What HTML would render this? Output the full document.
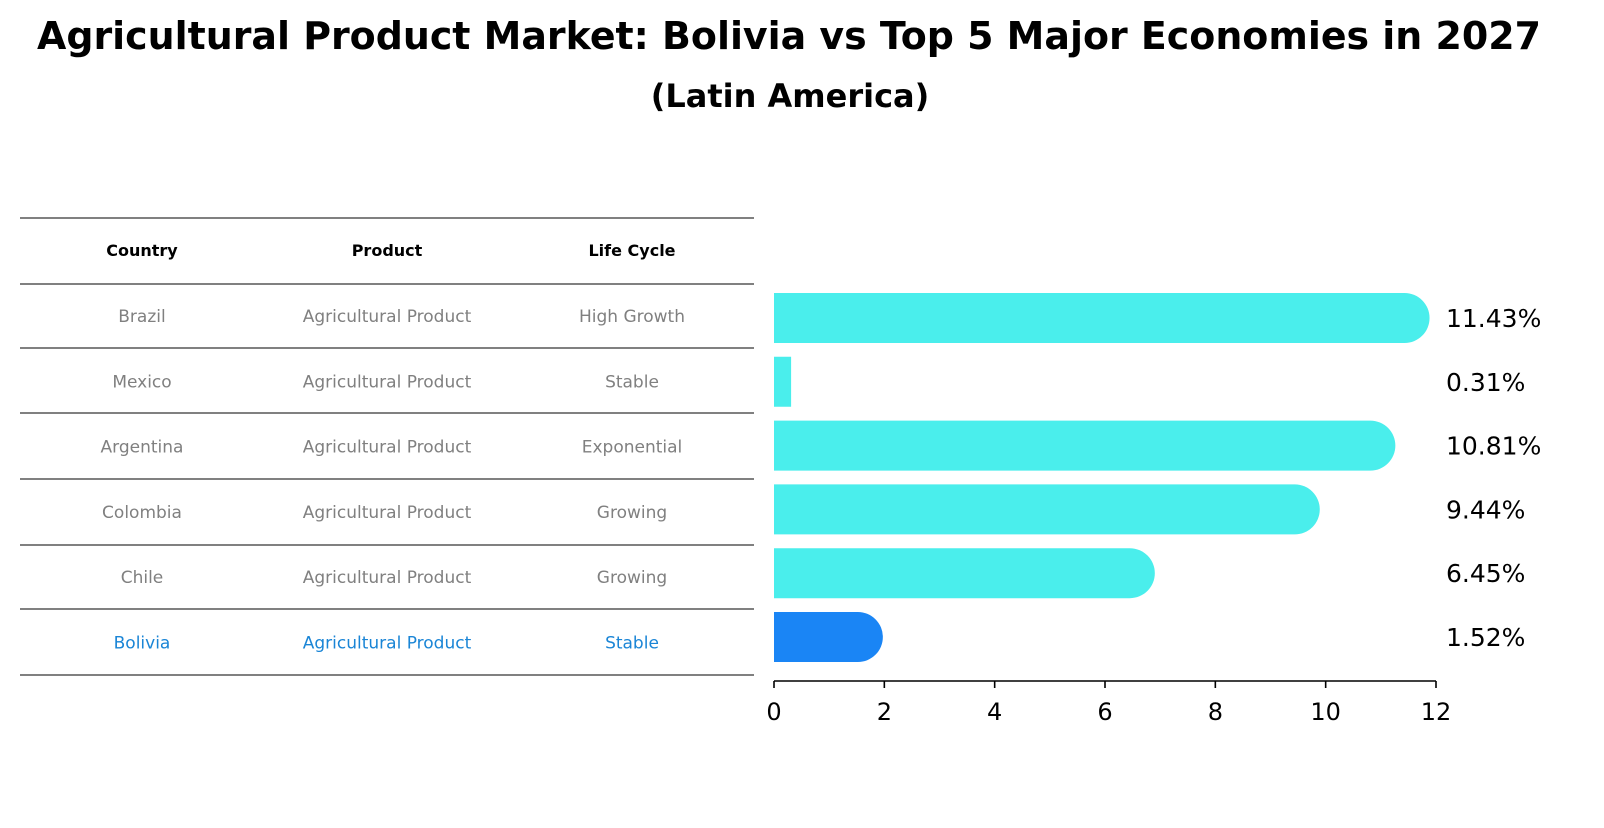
<!DOCTYPE html>
<html><head><meta charset="utf-8"><style>
body{margin:0;background:#fff;font-family:"Liberation Sans","DejaVu Sans",sans-serif;}
svg text{font-family:"DejaVu Sans","Liberation Sans",sans-serif;}
</style></head><body>
<svg width="1604" height="823" viewBox="0 0 1604 823" xmlns="http://www.w3.org/2000/svg">
<text x="789" y="49" text-anchor="middle" font-size="38" font-weight="bold" textLength="1504" lengthAdjust="spacingAndGlyphs">Agricultural Product Market: Bolivia vs Top 5 Major Economies in 2027</text>
<text x="790" y="107" text-anchor="middle" font-size="32" font-weight="bold">(Latin America)</text>
<g id="table"></g>
<g id="bars"></g>
<g id="axis"></g>
</svg>
<script>
const countries=["Brazil","Mexico","Argentina","Colombia","Chile","Bolivia"];
const products=["Agricultural Product","Agricultural Product","Agricultural Product","Agricultural Product","Agricultural Product","Agricultural Product"];
const lifeCycles=["High Growth","Stable","Exponential","Growing","Growing","Stable"];
const values=[11.43,0.31,10.81,9.44,6.45,1.52];
const ticks=[0,2,4,6,8,10,12];
const NS="http://www.w3.org/2000/svg";
function mk(tag,attrs,parent,txt){const e=document.createElementNS(NS,tag);for(const k in attrs)e.setAttribute(k,attrs[k]);if(txt!==undefined)e.textContent=txt;parent.appendChild(e);return e;}
const x0=774,x1=1436,xmax=12;
const xs=v=>x0+(x1-x0)*v/xmax;
const rowY=i=>318+i*63.8;
const tb=document.getElementById('table');
const lineYs=[218,284,348,413,479,545,609,675];
lineYs.forEach((y,i)=>{const l=mk('line',{x1:20,x2:754,y1:y,y2:y,stroke:'#000','stroke-width':1},tb);

});
const colX=[142,387,632];
["Country","Product","Life Cycle"].forEach((h,j)=>{const t=mk('text',{x:colX[j],y:256,'text-anchor':'middle','font-size':16,'font-weight':'bold'},tb,h);

});
countries.forEach((c,i)=>{const y=316+i*65.3+6;const col=c==="Bolivia"?'#1a85d6':'#808080';
[c,products[i],lifeCycles[i]].forEach((v,j)=>{const t=mk('text',{x:colX[j],y:y,'text-anchor':'middle','font-size':17,fill:col},tb,v);

});});
const bg=document.getElementById('bars');const h=50,r=25;
values.forEach((v,i)=>{const cy=rowY(i);const xe=xs(v);const col=countries[i]==="Bolivia"?'#1a85f5':'#4aeeec';
let d;
if(xe-x0>r){d=`M${x0},${cy-h/2} H${xe} A${r},${r} 0 0 1 ${xe},${cy+h/2} H${x0} Z`;}
else{d=`M${x0},${cy-h/2} H${xe} V${cy+h/2} H${x0} Z`;}
const p=mk('path',{d:d,fill:col},bg);


const t=mk('text',{x:1446,y:cy+9,'font-size':25},bg,v.toFixed(2)+'%');

});
const ax=document.getElementById('axis');
const al=mk('line',{x1:x0,x2:x1,y1:681,y2:681,stroke:'#000','stroke-width':1.6},ax);


ticks.forEach(tv=>{const x=xs(tv);const tl=mk('line',{x1:x,x2:x,y1:681,y2:688,stroke:'#000','stroke-width':1.6},ax);


const t=mk('text',{x:x,y:720,'text-anchor':'middle','font-size':24},ax,String(tv));

});
</script>
</body></html>
